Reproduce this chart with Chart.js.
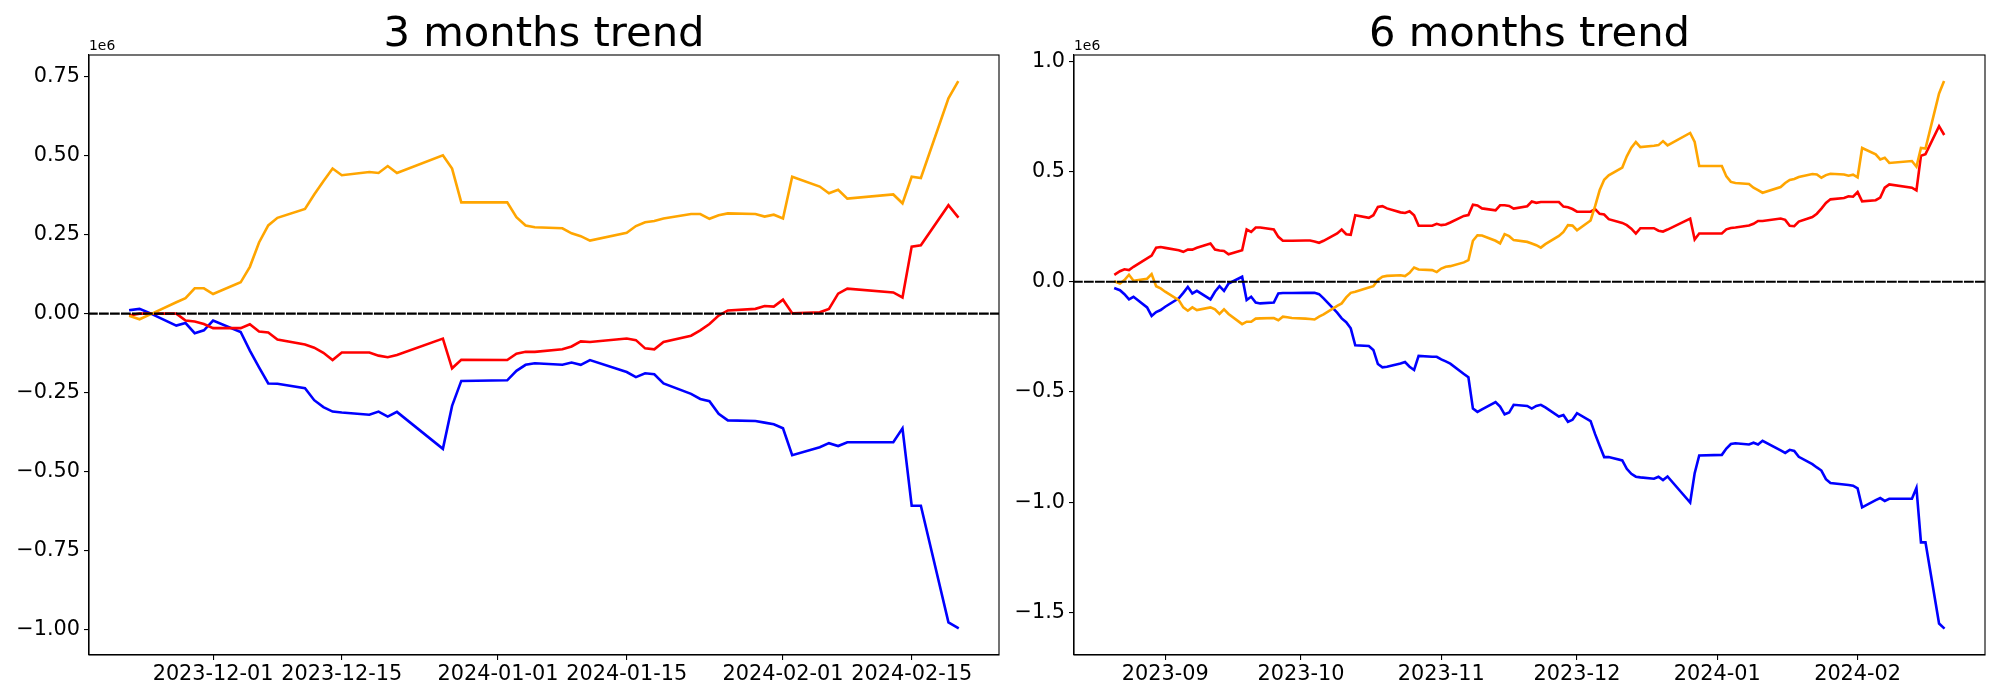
<!DOCTYPE html>
<html>
<head>
<meta charset="utf-8">
<title>trend</title>
<script src="https://cdn.jsdelivr.net/npm/chart.js@4"></script>
<style>
  body { margin: 0; background: #fff; overflow: hidden; }
  #wrap { position: relative; width: 2000px; height: 700px; }
  canvas { position: absolute; top: 0; }
</style>
</head>
<body>
<div id="wrap">
  <canvas id="chart3m" width="1000" height="700" style="left:0"></canvas>
  <canvas id="chart6m" width="1000" height="700" style="left:1000px"></canvas>
</div>
<script>
// values are in millions (axis offset "1e6")

// ---- 3 months ----
const dates3m = [
  "2023-11-22","2023-11-23","2023-11-24","2023-11-27","2023-11-28","2023-11-29","2023-11-30",
  "2023-12-01","2023-12-04","2023-12-05","2023-12-06","2023-12-07","2023-12-08","2023-12-11",
  "2023-12-12","2023-12-13","2023-12-14","2023-12-15","2023-12-18","2023-12-19","2023-12-20",
  "2023-12-21","2023-12-26","2023-12-27","2023-12-28","2024-01-02","2024-01-03","2024-01-04",
  "2024-01-05","2024-01-08","2024-01-09","2024-01-10","2024-01-11","2024-01-15","2024-01-16",
  "2024-01-17","2024-01-18","2024-01-19","2024-01-22","2024-01-23","2024-01-24","2024-01-25",
  "2024-01-26","2024-01-29","2024-01-30","2024-01-31","2024-02-01","2024-02-02","2024-02-05",
  "2024-02-06","2024-02-07","2024-02-08","2024-02-13","2024-02-14","2024-02-15","2024-02-16",
  "2024-02-19","2024-02-20"
];
const blue3m = [
  0.011, 0.015, 0.003, -0.038, -0.030, -0.062, -0.053,
  -0.022, -0.058, -0.117, -0.170, -0.221, -0.222, -0.236,
  -0.274, -0.296, -0.310, -0.313, -0.320, -0.310, -0.326,
  -0.311, -0.428, -0.292, -0.213, -0.211, -0.181, -0.162,
  -0.157, -0.162, -0.155, -0.162, -0.147, -0.185, -0.201,
  -0.189, -0.192, -0.221, -0.254, -0.270, -0.277, -0.317,
  -0.338, -0.340, -0.345, -0.350, -0.363, -0.448, -0.423,
  -0.410, -0.419, -0.407, -0.407, -0.363, -0.608, -0.608,
  -0.977, -0.994
];
const red3m = [
  -0.005, 0.000, 0.000, 0.000, -0.022, -0.025, -0.033,
  -0.046, -0.046, -0.034, -0.057, -0.060, -0.082, -0.098,
  -0.108, -0.124, -0.147, -0.123, -0.123, -0.133, -0.138,
  -0.131, -0.079, -0.173, -0.146, -0.147, -0.127, -0.121,
  -0.121, -0.113, -0.104, -0.088, -0.090, -0.079, -0.084,
  -0.110, -0.113, -0.090, -0.070, -0.053, -0.033, -0.006,
  0.010, 0.015, 0.024, 0.022, 0.044, 0.001, 0.004,
  0.015, 0.063, 0.079, 0.067, 0.051, 0.212, 0.216,
  0.343, 0.307
];
const orange3m = [
  -0.008, -0.018, -0.005, 0.036, 0.049, 0.080, 0.080,
  0.062, 0.099, 0.148, 0.225, 0.279, 0.303, 0.331,
  0.377, 0.419, 0.459, 0.438, 0.448, 0.445, 0.467,
  0.445, 0.501, 0.459, 0.352, 0.352, 0.305, 0.279,
  0.273, 0.270, 0.254, 0.245, 0.231, 0.256, 0.277,
  0.289, 0.293, 0.301, 0.315, 0.315, 0.300, 0.311,
  0.317, 0.315, 0.307, 0.313, 0.301, 0.433, 0.402,
  0.381, 0.392, 0.364, 0.377, 0.349, 0.433, 0.429,
  0.681, 0.732
];
const xTicks3m = ["2023-12-01", "2023-12-15", "2024-01-01", "2024-01-15", "2024-02-01", "2024-02-15"];
const yTicks3m = [-1.0, -0.75, -0.5, -0.25, 0, 0.25, 0.5, 0.75];

// ---- 6 months ----
const dates6m = [
  "2023-08-21","2023-08-22","2023-08-23","2023-08-24","2023-08-25","2023-08-28","2023-08-29","2023-08-30","2023-08-31",
  "2023-09-01","2023-09-04","2023-09-05","2023-09-06","2023-09-07","2023-09-08","2023-09-11","2023-09-12","2023-09-13",
  "2023-09-14","2023-09-15","2023-09-18","2023-09-19","2023-09-20","2023-09-21","2023-09-22","2023-09-25","2023-09-26",
  "2023-09-27","2023-09-28","2023-09-29","2023-10-02","2023-10-03","2023-10-04","2023-10-05","2023-10-06","2023-10-09",
  "2023-10-10","2023-10-11","2023-10-12","2023-10-13","2023-10-16","2023-10-17","2023-10-18","2023-10-19","2023-10-20",
  "2023-10-23","2023-10-24","2023-10-25","2023-10-26","2023-10-27","2023-10-30","2023-10-31","2023-11-01","2023-11-02",
  "2023-11-03","2023-11-06","2023-11-07","2023-11-08","2023-11-09","2023-11-10","2023-11-13","2023-11-14","2023-11-15",
  "2023-11-16","2023-11-17","2023-11-20","2023-11-21","2023-11-22","2023-11-23","2023-11-24","2023-11-27","2023-11-28",
  "2023-11-29","2023-11-30","2023-12-01","2023-12-04","2023-12-05","2023-12-06","2023-12-07","2023-12-08","2023-12-11",
  "2023-12-12","2023-12-13","2023-12-14","2023-12-15","2023-12-18","2023-12-19","2023-12-20","2023-12-21","2023-12-26",
  "2023-12-27","2023-12-28","2024-01-02","2024-01-03","2024-01-04","2024-01-05","2024-01-08","2024-01-09","2024-01-10",
  "2024-01-11","2024-01-15","2024-01-16","2024-01-17","2024-01-18","2024-01-19","2024-01-22","2024-01-23","2024-01-24",
  "2024-01-25","2024-01-26","2024-01-29","2024-01-30","2024-01-31","2024-02-01","2024-02-02","2024-02-05","2024-02-06",
  "2024-02-07","2024-02-08","2024-02-13","2024-02-14","2024-02-15","2024-02-16","2024-02-19","2024-02-20"
];
const blue6m = [
  -0.030, -0.038, -0.056, -0.080, -0.068, -0.116, -0.155, -0.137, -0.128,
  -0.113, -0.075, -0.050, -0.023, -0.053, -0.041, -0.080, -0.045, -0.020,
  -0.041, -0.008, 0.023, -0.083, -0.068, -0.094, -0.098, -0.094, -0.053,
  -0.051, -0.051, -0.051, -0.050, -0.050, -0.050, -0.056, -0.075, -0.140,
  -0.166, -0.183, -0.211, -0.288, -0.291, -0.309, -0.373, -0.388, -0.385,
  -0.371, -0.364, -0.385, -0.400, -0.336, -0.340, -0.340, -0.352, -0.361,
  -0.371, -0.418, -0.433, -0.575, -0.590, -0.579, -0.546, -0.566, -0.601,
  -0.593, -0.558, -0.563, -0.575, -0.563, -0.558, -0.570, -0.611, -0.604,
  -0.635, -0.626, -0.596, -0.632, -0.691, -0.744, -0.795, -0.795, -0.810,
  -0.848, -0.871, -0.884, -0.887, -0.893, -0.884, -0.899, -0.883, -1.001,
  -0.868, -0.788, -0.785, -0.756, -0.736, -0.732, -0.738, -0.730, -0.738,
  -0.721, -0.765, -0.776, -0.762, -0.767, -0.794, -0.827, -0.842, -0.856,
  -0.895, -0.913, -0.919, -0.922, -0.925, -0.937, -1.023, -0.990, -0.981,
  -0.994, -0.984, -0.984, -0.935, -1.182, -1.182, -1.550, -1.569
];
const red6m = [
  0.035, 0.048, 0.057, 0.053, 0.068, 0.106, 0.119, 0.155, 0.158,
  0.154, 0.143, 0.136, 0.146, 0.146, 0.154, 0.174, 0.146, 0.142,
  0.140, 0.125, 0.143, 0.237, 0.226, 0.246, 0.246, 0.237, 0.204,
  0.186, 0.186, 0.186, 0.187, 0.187, 0.183, 0.177, 0.186, 0.219,
  0.237, 0.216, 0.213, 0.302, 0.290, 0.302, 0.340, 0.343, 0.333,
  0.315, 0.312, 0.320, 0.302, 0.254, 0.254, 0.263, 0.257, 0.260,
  0.269, 0.299, 0.303, 0.350, 0.346, 0.333, 0.324, 0.347, 0.347,
  0.344, 0.332, 0.343, 0.364, 0.358, 0.362, 0.362, 0.362, 0.341,
  0.338, 0.330, 0.318, 0.318, 0.330, 0.308, 0.305, 0.284, 0.267,
  0.257, 0.241, 0.219, 0.243, 0.243, 0.232, 0.228, 0.237, 0.287,
  0.192, 0.219, 0.219, 0.238, 0.244, 0.246, 0.255, 0.263, 0.276,
  0.276, 0.287, 0.281, 0.254, 0.252, 0.273, 0.294, 0.309, 0.332,
  0.358, 0.374, 0.380, 0.388, 0.386, 0.407, 0.365, 0.370, 0.382,
  0.427, 0.442, 0.427, 0.415, 0.572, 0.579, 0.706, 0.671
];
const orange6m = [
  0.000, -0.008, 0.008, 0.032, 0.005, 0.014, 0.035, -0.020, -0.030,
  -0.045, -0.083, -0.116, -0.131, -0.116, -0.128, -0.116, -0.125, -0.146,
  -0.125, -0.146, -0.192, -0.181, -0.181, -0.167, -0.166, -0.164, -0.174,
  -0.158, -0.161, -0.164, -0.167, -0.169, -0.171, -0.158, -0.148, -0.109,
  -0.098, -0.071, -0.050, -0.045, -0.026, -0.020, 0.008, 0.023, 0.027,
  0.030, 0.026, 0.041, 0.065, 0.056, 0.053, 0.044, 0.060, 0.068,
  0.071, 0.088, 0.098, 0.186, 0.211, 0.210, 0.186, 0.174, 0.216,
  0.207, 0.189, 0.181, 0.174, 0.166, 0.155, 0.171, 0.208, 0.226,
  0.257, 0.255, 0.234, 0.278, 0.343, 0.415, 0.463, 0.483, 0.518,
  0.569, 0.608, 0.634, 0.611, 0.617, 0.620, 0.638, 0.619, 0.675,
  0.634, 0.525, 0.525, 0.478, 0.453, 0.448, 0.444, 0.427, 0.416,
  0.404, 0.430, 0.448, 0.462, 0.466, 0.475, 0.489, 0.487, 0.472,
  0.484, 0.490, 0.487, 0.481, 0.486, 0.474, 0.607, 0.578, 0.555,
  0.563, 0.539, 0.548, 0.522, 0.607, 0.604, 0.854, 0.905
];
const xTicks6m = ["2023-09", "2023-10", "2023-11", "2023-12", "2024-01", "2024-02"];
const yTicks6m = [-1.5, -1.0, -0.5, 0, 0.5, 1.0];

const FONT = "DejaVu Sans";

function dayNum(s) {
  const p = s.split("-").map(Number);
  return Date.UTC(p[0], p[1] - 1, p[2] || 1) / 86400000;
}

function toPoints(dates, vals) {
  return dates.map((d, i) => ({ x: dayNum(d), y: vals[i] }));
}

function fmt(v, dec) {
  return v.toFixed(dec).replace("-", "\u2212");
}

// spines, title and the offset label
const framePlugin = {
  id: "frame",
  afterDraw(chart) {
    const a = chart.chartArea;
    const ctx = chart.ctx;
    ctx.save();
    ctx.strokeStyle = "#000";
    ctx.lineWidth = 1.1;
    ctx.strokeRect(a.left, a.top, a.right - a.left, a.bottom - a.top);
    ctx.fillStyle = "#000";
    ctx.textBaseline = "alphabetic";
    ctx.textAlign = "center";
    ctx.font = "41.7px '" + FONT + "'";
    ctx.fillText(chart.options.plugins.frame.title, (a.left + a.right) / 2, 46);
    ctx.textAlign = "left";
    ctx.font = "13.9px '" + FONT + "'";
    ctx.fillText("1e6", a.left, a.top - 5);
    ctx.restore();
  }
};

function makeChart(id, title, dates, blue, red, orange, xTicks, yTicks, dec, axisWidth, padRight) {
  const xs = dates.map(dayNum);
  const x0 = Math.min(...xs), x1 = Math.max(...xs);
  const all = blue.concat(red, orange);
  const y0 = Math.min(...all), y1 = Math.max(...all);
  const xPad = (x1 - x0) * 0.05, yPad = (y1 - y0) * 0.05;
  const xMin = x0 - xPad, xMax = x1 + xPad;
  const xTickVals = xTicks.map(dayNum);

  return new Chart(document.getElementById(id), {
    type: "line",
    data: {
      datasets: [
        {
          data: [{ x: xMin, y: 0 }, { x: xMax, y: 0 }],
          borderColor: "#000", borderWidth: 2.1, borderDash: [7.7, 3.3]
        },
        { data: toPoints(dates, orange), borderColor: "#ffa500" },
        { data: toPoints(dates, red), borderColor: "#ff0000" },
        { data: toPoints(dates, blue), borderColor: "#0000ff" }
      ]
    },
    options: {
      responsive: false,
      animation: false,
      devicePixelRatio: 1,
      layout: { padding: { top: 55, right: padRight, bottom: 0, left: 0 } },
      elements: {
        point: { radius: 0 },
        line: { tension: 0, borderWidth: 2.6, fill: false, borderCapStyle: "square" }
      },
      plugins: {
        legend: { display: false },
        tooltip: { enabled: false },
        frame: { title: title }
      },
      scales: {
        x: {
          type: "linear",
          min: xMin, max: xMax,
          afterBuildTicks: ax => { ax.ticks = xTickVals.map(v => ({ value: v })); },
          afterFit: ax => { ax.height = 45; },
          ticks: {
            autoSkip: false, maxRotation: 0, minRotation: 0, padding: 2,
            color: "#000", font: { family: FONT, size: 20.8 },
            callback: (v, i) => xTicks[i]
          },
          grid: { drawOnChartArea: false, drawTicks: true, tickLength: 5, color: "#000", lineWidth: 1.1 },
          border: { color: "#000", width: 1.1 }
        },
        y: {
          type: "linear",
          min: y0 - yPad, max: y1 + yPad,
          afterBuildTicks: ax => { ax.ticks = yTicks.map(v => ({ value: v })); },
          afterFit: ax => { ax.width = axisWidth; },
          ticks: {
            padding: 4, color: "#000", font: { family: FONT, size: 20.8 },
            callback: v => fmt(v, dec)
          },
          grid: { drawOnChartArea: false, drawTicks: true, tickLength: 5, color: "#000", lineWidth: 1.1 },
          border: { color: "#000", width: 1.1 }
        }
      }
    },
    plugins: [framePlugin]
  });
}

makeChart("chart3m", "3 months trend", dates3m, blue3m, red3m, orange3m, xTicks3m, yTicks3m, 2, 89, 1);
makeChart("chart6m", "6 months trend", dates6m, blue6m, red6m, orange6m, xTicks6m, yTicks6m, 1, 74, 15);
</script>
</body>
</html>
